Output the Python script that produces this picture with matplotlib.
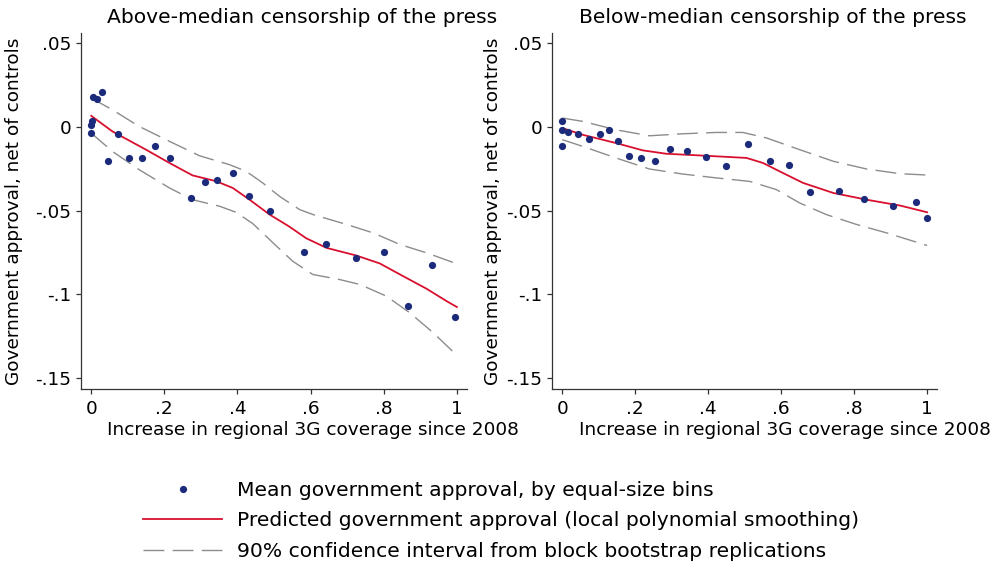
import numpy as np
import matplotlib
matplotlib.use("Agg")
import matplotlib.pyplot as plt
from matplotlib.lines import Line2D

# du lieu doc tu hinh goc (2 panel, 25 bin moi panel)
# panel trai: above-median censorship
left_bin_x = [0.000, 0.000, 0.001, 0.004, 0.015, 0.029, 0.045, 0.072, 0.104, 0.139, 0.175, 0.215, 0.273,
              0.310, 0.345, 0.387, 0.431, 0.490, 0.582, 0.641, 0.724, 0.801, 0.865, 0.933, 0.995]
left_bin_y = [-0.0038, 0.0012, 0.0032, 0.0177, 0.0167, 0.0207, -0.0202, -0.0043, -0.0189, -0.0189, -0.0117,
              -0.0189, -0.0423, -0.0329, -0.0317, -0.0276, -0.0411, -0.0500, -0.0746, -0.0702, -0.0782,
              -0.0744, -0.1067, -0.0827, -0.1137]

left_fit_x = [0.0, 0.058, 0.15, 0.214, 0.277, 0.342, 0.387, 0.433, 0.488, 0.54, 0.588, 0.643, 0.725,
              0.789, 0.853, 0.917, 0.972, 1.0]
left_fit_y = [0.0065, -0.0028, -0.0137, -0.0216, -0.029, -0.0325, -0.0365, -0.0435, -0.0524, -0.0593,
              -0.0665, -0.0722, -0.0768, -0.0815, -0.0891, -0.0966, -0.104, -0.1075]

left_hi_x = [0.0, 0.058, 0.131, 0.214, 0.296, 0.378, 0.424, 0.469, 0.515, 0.570, 0.607, 0.699, 0.771,
             0.844, 0.917, 0.997]
left_hi_y = [0.0171, 0.0101, 0.0002, -0.0087, -0.0173, -0.0226, -0.0266, -0.0335, -0.0415, -0.0494,
             -0.0524, -0.0583, -0.0633, -0.0702, -0.0752, -0.0815]

left_lo_x = [0.0, 0.058, 0.131, 0.214, 0.277, 0.351, 0.396, 0.442, 0.497, 0.551, 0.606, 0.679, 0.734,
             0.807, 0.871, 0.935, 0.997]
left_lo_y = [-0.0038, -0.0147, -0.0256, -0.0365, -0.0435, -0.0474, -0.051, -0.0578, -0.0692, -0.0802,
             -0.0881, -0.0911, -0.094, -0.101, -0.1109, -0.1228, -0.1357]

# panel phai: below-median censorship
right_bin_x = [0.000, 0.000, 0.000, 0.015, 0.042, 0.072, 0.104, 0.129, 0.152, 0.182, 0.215, 0.254, 0.294,
               0.342, 0.393, 0.450, 0.509, 0.569, 0.622, 0.680, 0.758, 0.828, 0.907, 0.969, 1.000]
right_bin_y = [0.0036, -0.0022, -0.0113, -0.0034, -0.0044, -0.0073, -0.0044, -0.0018, -0.0083, -0.0173,
               -0.0189, -0.0204, -0.0131, -0.0143, -0.0179, -0.0232, -0.0101, -0.0206, -0.0230, -0.0387,
               -0.0383, -0.0429, -0.0474, -0.0450, -0.0546]

right_fit_x = [0.0, 0.056, 0.147, 0.221, 0.285, 0.376, 0.505, 0.55, 0.605, 0.66, 0.743, 0.834, 0.926, 1.0]
right_fit_y = [-0.0008, -0.0048, -0.0097, -0.0141, -0.0161, -0.0171, -0.0186, -0.0216, -0.0276, -0.0335,
               -0.0395, -0.0435, -0.047, -0.051]

right_hi_x = [0.0, 0.056, 0.147, 0.239, 0.33, 0.422, 0.495, 0.56, 0.651, 0.743, 0.834, 0.926, 1.0]
right_hi_y = [0.0052, 0.0032, -0.0018, -0.0054, -0.0042, -0.0034, -0.0034, -0.0067, -0.0137, -0.0206,
              -0.0252, -0.028, -0.0288]

right_lo_x = [0.0, 0.056, 0.147, 0.239, 0.33, 0.422, 0.514, 0.587, 0.651, 0.724, 0.807, 0.889, 1.0]
right_lo_y = [-0.0077, -0.0117, -0.0186, -0.0252, -0.0282, -0.0305, -0.0326, -0.0375, -0.0455, -0.0524,
              -0.0583, -0.0633, -0.0708]

x_ticks = [0, 0.2, 0.4, 0.6, 0.8, 1]
x_tick_labels = ["0", ".2", ".4", ".6", ".8", "1"]
y_ticks = [0.05, 0, -0.05, -0.1, -0.15]
y_tick_labels = [".05", "0", "-.05", "-.1", "-.15"]

titles = ["Above-median censorship of the press", "Below-median censorship of the press"]
xlab = "Increase in regional 3G coverage since 2008"
ylab = "Government approval, net of controls"
legend_labels = ["Mean government approval, by equal-size bins",
                 "Predicted government approval (local polynomial smoothing)",
                 "90% confidence interval from block bootstrap replications"]

NAVY = "#1c2a7c"
RED = "#d8102e"
GRAY = "#8c8c8c"
DASH = (15, 6)
FS = 13.3       # nhan truc, so tren truc
FS_BIG = 14.6   # tieu de, chu thich

plt.rcParams["font.family"] = "DejaVu Sans"
plt.rcParams["lines.scale_dashes"] = False

fig = plt.figure(figsize=(9.95, 5.68), dpi=100)
ax_left = fig.add_axes([0.0814, 0.3151, 0.3877, 0.6268])
ax_right = fig.add_axes([0.5548, 0.3151, 0.3869, 0.6268])

panels = [
    (ax_left, left_bin_x, left_bin_y, left_fit_x, left_fit_y, left_hi_x, left_hi_y, left_lo_x, left_lo_y),
    (ax_right, right_bin_x, right_bin_y, right_fit_x, right_fit_y, right_hi_x, right_hi_y, right_lo_x, right_lo_y),
]

for ax, bx, by, fx, fy, hx, hy, lx, ly in panels:
    ax.plot(hx, hy, color=GRAY, lw=1.0, dashes=DASH)
    ax.plot(lx, ly, color=GRAY, lw=1.0, dashes=DASH)
    ax.plot(fx, fy, color=RED, lw=1.3)
    ax.plot(bx, by, "o", color=NAVY, ms=5.2, mec="none")

    ax.set_xlim(-0.028, 1.027)
    ax.set_ylim(-0.1564, 0.0559)
    ax.set_xticks(x_ticks)
    ax.set_xticklabels(x_tick_labels)
    ax.set_yticks(y_ticks)
    ax.set_yticklabels(y_tick_labels)
    ax.spines["top"].set_visible(False)
    ax.spines["right"].set_visible(False)
    for s in ["left", "bottom"]:
        ax.spines[s].set_linewidth(0.9)
        ax.spines[s].set_color("#333333")
    ax.tick_params(direction="out", length=3.8, width=0.9, color="#333333", labelsize=FS, pad=3)
    ax.tick_params(axis="x", pad=4)

# tieu de, nhan truc
fig.text(0.3035, 0.970, titles[0], ha="center", va="center", fontsize=FS_BIG)
fig.text(0.777, 0.970, titles[1], ha="center", va="center", fontsize=FS_BIG)
fig.text(0.3146, 0.243, xlab, ha="center", va="center", fontsize=FS)
fig.text(0.789, 0.243, xlab, ha="center", va="center", fontsize=FS)
fig.text(0.014, 0.6285, ylab, ha="center", va="center", rotation=90, fontsize=FS)
fig.text(0.4955, 0.6285, ylab, ha="center", va="center", rotation=90, fontsize=FS)

# chu thich
handles = [
    Line2D([], [], ls="none", marker="o", color=NAVY, ms=5.2, mec="none"),
    Line2D([], [], color=RED, lw=1.3),
    Line2D([], [], color=GRAY, lw=1.0, dashes=DASH),
]
fig.legend(handles, legend_labels, loc="center left", bbox_to_anchor=(143 / 995, 1 - 521 / 568),
           frameon=False, fontsize=FS_BIG, handlelength=3.9, handletextpad=0.74, labelspacing=0.56,
           borderpad=0, borderaxespad=0)

plt.savefig("out.png", dpi=100)
